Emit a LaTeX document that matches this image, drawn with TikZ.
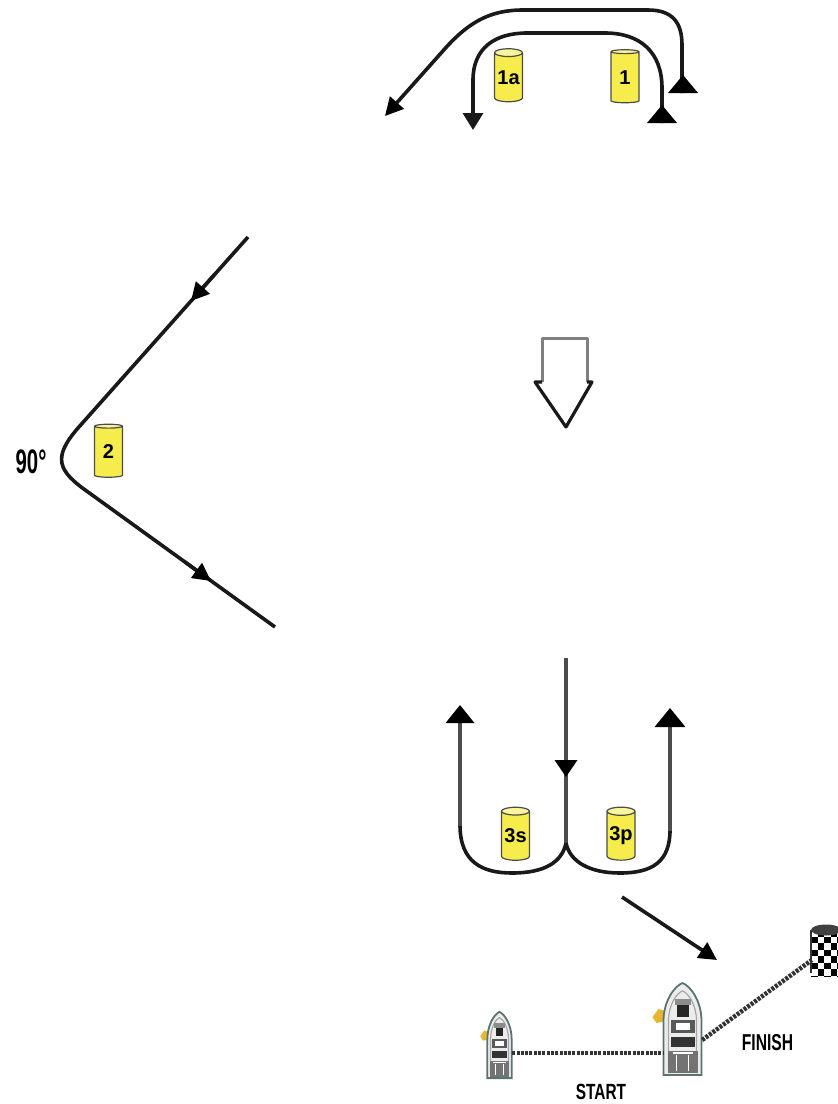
\documentclass[tikz,border=0pt]{standalone}
\usepackage{fontspec}
\setmainfont{Liberation Sans}
\usetikzlibrary{arrows.meta,shapes.geometric}
\definecolor{buoyY}{HTML}{F6EC4C}
\definecolor{hull}{HTML}{5B7373}
\definecolor{flagY}{HTML}{E8B531}
\begin{document}
\begin{tikzpicture}[x=1pt,y=-1pt,
  course/.style={line width=3.6pt, draw=black!90},
  vcourse/.style={line width=3.6pt, draw=black!70},
  tipA/.style={-{Triangle[length=18pt,width=18pt,color=black]}},
  buoy/.style={cylinder, shape border rotate=90, aspect=0.35, minimum width=28pt,
    minimum height=53pt, inner sep=0pt, draw=black!70, line width=1.2pt,
    cylinder uses custom fill, cylinder body fill=buoyY, cylinder end fill=buoyY!55!white,
    font=\bfseries\fontsize{20}{20}\selectfont, text=black},
  dotline/.style={line width=4.5pt, draw=black!80, dash pattern=on 3pt off 1.3pt},
  lab/.style={inner sep=0pt, text=black},
  boat/.pic={
    \fill[flagY] (-30,-12) -- (-24,-20) -- (-17,-18) -- (-16,-8) -- (-26,-6) -- cycle;
    \draw[draw=hull, line width=1.8pt, fill=gray!15] (-19,46) -- (-19,-8)
      .. controls (-19,-28) and (-8,-43) .. (0,-46)
      .. controls (8,-43) and (19,-28) .. (19,-8) -- (19,46) -- cycle;
    \draw[gray!70, line width=1.2pt] (-14,40) -- (-14,-8)
      .. controls (-14,-24) and (-6,-36) .. (0,-38)
      .. controls (6,-36) and (14,-24) .. (14,-8) -- (14,40);
    \fill[black!45] (-8,-30) rectangle (8,-24);
    \fill[black!85] (-6,-24) rectangle (6,-12);
    \fill[black!65] (-12,-9) rectangle (12,4);
    \fill[white] (-7,-6) rectangle (7,1);
    \fill[black!80] (-12,8) rectangle (12,18);
    \fill[black!55] (-15,22) rectangle (15,44);
    \draw[white, line width=1.2pt] (-6,26) -- (-6,42) (6,26) -- (6,42) (-10,24) -- (10,24);
  }
]
\useasboundingbox (0,0) rectangle (838,1104);

% ---------- top: buoys 1a and 1 ----------
\node[buoy] (b1a) at (508.5,77.5) {\raisebox{-4pt}{1a}};
\node[buoy] (b1) at (625,77.5) {\raisebox{-4pt}{1}};

\draw[course, tipA] (682,93) -- (682,45) .. controls (682,22) and (672,10) .. (648,10)
  -- (523,10) .. controls (490,10) and (468,22) .. (442,52) -- (385,116);
\fill[black] (668,93) -- (698,93) -- (683,75) -- cycle;

\draw[course, -{Triangle[length=17pt,width=20pt]}] (662,123) -- (662,88)
  .. controls (662,52) and (640,33) .. (605,33) -- (527,33)
  .. controls (495,33) and (473,48) .. (473,80) -- (473,130);
\fill[black] (647,123) -- (677,123) -- (662,105) -- cycle;

% ---------- left: buoy 2 ----------
\node[buoy] (b2) at (108.5,452) {\raisebox{-4pt}{2}};
\draw[course] (248,237) -- (78,428) .. controls (52,458) and (58,471) .. (88,492) -- (275,627);
\draw[course, tipA] (215,274) -- (191,301);
\draw[course, tipA] (185,562) -- (211,581);
\node[lab, font=\bfseries\fontsize{34}{34}\selectfont] (t90) at (31,462) {\scalebox{0.6}[1]{90°}};

% ---------- middle hollow arrow ----------
\draw[line width=3pt, draw=black!50, line join=round] (542,382) -- (542,338) -- (587,338) -- (587,382);
\draw[line width=3.2pt, draw=black!90, line join=round] (587,382) -- (592,382) -- (566,427) -- (535,382) -- (542,382);

% ---------- bottom: buoys 3s and 3p ----------
\node[buoy] (b3s) at (515.5,836) {\raisebox{-4pt}{3s}};
\node[buoy] (b3p) at (621,836) {\raisebox{-4pt}{3p}};

\draw[vcourse] (566,658) -- (566,843);
\draw[vcourse, -{Triangle[length=17pt,width=22pt,color=black]}] (566,745) -- (566,777);
\draw[course] (566,843) .. controls (562,862) and (545,873) .. (512,873)
  .. controls (482,873) and (460,862) .. (460,825);
\draw[vcourse, -{Triangle[length=18pt,width=28pt,color=black]}] (460,826) -- (460,705);
\draw[course] (566,843) .. controls (570,862) and (590,873) .. (620,873)
  .. controls (652,873) and (670,862) .. (670,830);
\draw[vcourse, -{Triangle[length=19pt,width=30pt,color=black]}] (670,831) -- (670,708);

\draw[course, tipA] (622,897) -- (717,960);

% ---------- finish buoy ----------
\node[inner sep=0pt, minimum width=28pt, minimum height=50pt] (finishbuoy) at (826,952) {};
\begin{scope}
  \clip (811,930) rectangle (840,976);
  \fill[white] (811,930) rectangle (840,976);
  \foreach \i in {0,...,7}{
    \foreach \j in {0,...,4}{
      \ifodd\numexpr\i+\j\relax
        \fill[black] (811+\j*6.5,930+\i*6.5) rectangle +(6.5,6.5);
      \fi
    }
  }
\end{scope}
\draw[black!80, line width=1.2pt] (811,930) -- (811,973);
\fill[black!75] (826,930) ellipse [x radius=15, y radius=5.5];

% ---------- boats ----------
\node[inner sep=0pt, minimum width=25pt, minimum height=66pt] (smallboat) at (499.5,1045) {};
\node[inner sep=0pt, minimum width=39pt, minimum height=92pt] (bigboat) at (682.5,1029) {};
\pic[xscale=0.64, yscale=0.72] at (smallboat.center) {boat};
\pic at (bigboat.center) {boat};

\draw[dotline] ([yshift=-8pt]smallboat.east) -- ([yshift=-24pt]bigboat.west);
\draw[dotline] ([yshift=-11pt]bigboat.east) -- ([yshift=-8pt]finishbuoy.west);

\node[lab, font=\bfseries\fontsize{23}{23}\selectfont] (tfinish) at (767.5,1043) {\scalebox{0.68}[1]{FINISH}};
\node[lab, font=\bfseries\fontsize{22}{22}\selectfont] (tstart) at (601,1092) {\scalebox{0.7}[1]{START}};
\end{tikzpicture}
\end{document}
